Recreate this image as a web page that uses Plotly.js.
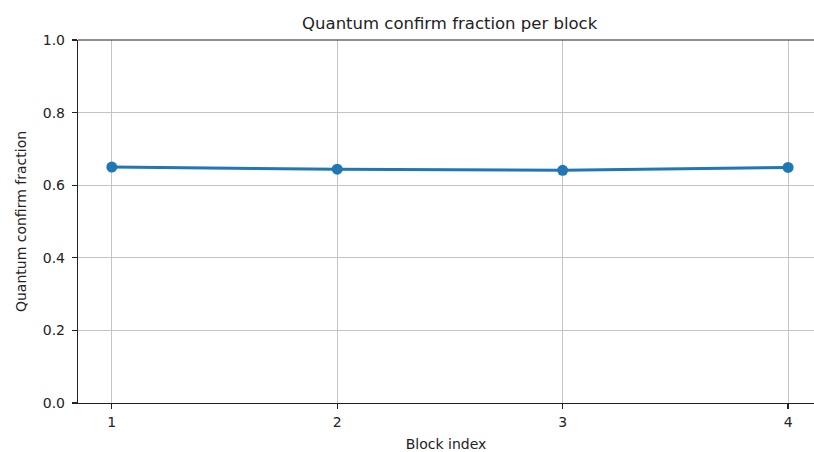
<!DOCTYPE html>
<html>
<head>
<meta charset="utf-8">
<script src="https://cdn.plot.ly/plotly-3.0.1.min.js"></script>
<style>html,body{margin:0;padding:0;background:#fff;overflow:hidden;}#chart{width:814px;height:452px;}</style>
</head>
<body>
<div id="chart"></div>
<script>
const blocks = [1, 2, 3, 4];
const fractions = [0.650, 0.644, 0.641, 0.649];
const yTicks = [0, 0.2, 0.4, 0.6, 0.8, 1.0];
const yTickLabels = ["0.0", "0.2", "0.4", "0.6", "0.8", "1.0"];
const xTicks = [1, 2, 3, 4];
const xTickLabels = ["1", "2", "3", "4"];

const font = "DejaVu Sans, sans-serif";
const textColor = "#222";
const trace = {
  x: blocks,
  y: fractions,
  type: "scatter",
  mode: "lines+markers",
  line: {color: "#1f77b4", width: 3},
  marker: {color: "#1f77b4", size: 11},
  hoverinfo: "skip"
};
const layout = {
  width: 814,
  height: 452,
  margin: {l: 78, r: 0, t: 40, b: 49, pad: 0},
  paper_bgcolor: "#fff",
  plot_bgcolor: "#fff",
  showlegend: false,
  font: {family: font, size: 14, color: textColor},
  title: {
    text: "Quantum confirm fraction per block",
    font: {family: font, size: 16.5, color: textColor},
    x: 0.505, xanchor: "center", xref: "paper",
    y: 1, yref: "paper", yanchor: "bottom", pad: {b: 11}
  },
  xaxis: {
    range: [0.85, 4.115],
    tickvals: xTicks, ticktext: xTickLabels,
    showgrid: true, gridcolor: "#c4c4c4", gridwidth: 1,
    zeroline: false,
    showline: true, linecolor: "#222", linewidth: 1.2,
    ticks: "outside", ticklen: 5, tickwidth: 1.2, tickcolor: "#222",
    ticklabelstandoff: 1,
    tickfont: {family: font, size: 14, color: textColor},
    title: {text: "Block index", font: {family: font, size: 14, color: textColor}, standoff: 13}
  },
  yaxis: {
    range: [0, 1],
    tickvals: yTicks, ticktext: yTickLabels,
    showgrid: true, gridcolor: "#c4c4c4", gridwidth: 1,
    zeroline: false,
    showline: true, linecolor: "#222", linewidth: 1.2,
    ticks: "outside", ticklen: 5, tickwidth: 1.2, tickcolor: "#222",
    ticklabelstandoff: 4,
    tickfont: {family: font, size: 14, color: textColor},
    title: {text: "Quantum confirm fraction", font: {family: font, size: 14, color: textColor}, standoff: 12}
  },
  shapes: [{
    type: "line", xref: "paper", yref: "paper",
    x0: 0, x1: 1, y0: 1, y1: 1,
    line: {color: "#222", width: 1.2}, layer: "above"
  }]
};
Plotly.newPlot("chart", [trace], layout, {displayModeBar: false, staticPlot: true});
</script>
</body>
</html>
